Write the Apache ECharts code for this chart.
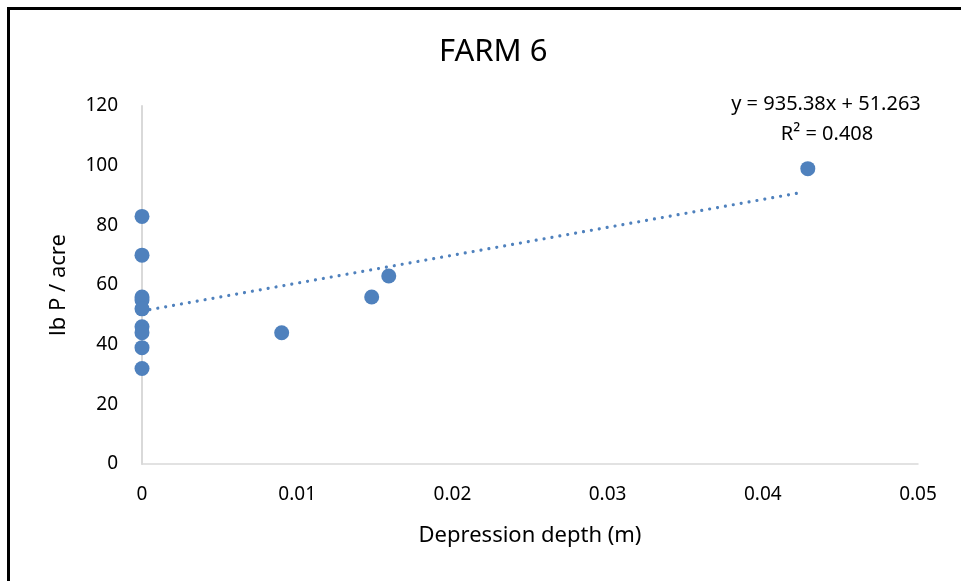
<!DOCTYPE html>
<html>
<head>
<meta charset="utf-8">
<script src="https://cdn.jsdelivr.net/npm/echarts@6/dist/echarts.min.js"></script>
<style>
  html, body { margin: 0; padding: 0; background: #fff; }
  #chart { width: 961px; height: 581px; }
</style>
</head>
<body>
<div id="chart"></div>
<script>
// depression depth (m) and lb P / acre
const depth = [0, 0, 0, 0, 0, 0, 0, 0, 0, 0.009, 0.0148, 0.0159, 0.0429];
const phosphorus = [83, 70, 56, 55, 52, 46, 44, 39, 32, 44, 56, 63, 99];

// linear trendline as printed on the chart
const slope = 935.38;
const intercept = 51.263;
const trendX = [0, 0.0425];

const xTicks = [0, 0.01, 0.02, 0.03, 0.04, 0.05];
const yTicks = [0, 20, 40, 60, 80, 100, 120];

const font = '"Noto Sans", "Liberation Sans", sans-serif';
const blue = '#4f81bd';

const chart = echarts.init(document.getElementById('chart'));

chart.setOption({
    animation: false,
    title: {
        text: 'FARM 6',
        left: 434,
        top: 32,
        textStyle: { fontFamily: font, fontSize: 31, fontWeight: 'normal', color: '#000' }
    },
    grid: { left: 142, right: 43, top: 106, bottom: 117 },
    xAxis: {
        type: 'value',
        min: xTicks[0],
        max: xTicks[xTicks.length - 1],
        interval: 0.01,
        name: 'Depression depth (m)',
        nameLocation: 'middle',
        nameGap: 61,
        nameTextStyle: { fontFamily: font, fontSize: 22, color: '#000' },
        axisLine: { lineStyle: { color: '#d9d9d9', width: 1.5 } },
        axisTick: { show: false },
        splitLine: { show: false },
        axisLabel: { fontFamily: font, fontSize: 19, color: '#000', margin: 21 }
    },
    yAxis: {
        type: 'value',
        min: yTicks[0],
        max: yTicks[yTicks.length - 1],
        interval: 20,
        name: 'lb P / acre',
        nameLocation: 'middle',
        nameGap: 72,
        nameTextStyle: { fontFamily: font, fontSize: 22, color: '#000' },
        axisLine: { show: true, lineStyle: { color: '#d9d9d9', width: 2 } },
        axisTick: { show: false },
        splitLine: { show: false },
        axisLabel: { fontFamily: font, fontSize: 19, color: '#000', margin: 24 }
    },
    series: [
        {
            type: 'line',
            data: trendX.map(x => [x, slope * x + intercept]),
            symbol: 'none',
            lineStyle: { color: blue, width: 3.2, type: [0.01, 8], cap: 'round' },
            z: 2
        },
        {
            type: 'scatter',
            data: depth.map((d, i) => [d, phosphorus[i]]),
            symbolSize: 15,
            itemStyle: { color: blue, opacity: 1 },
            z: 3
        }
    ],
    graphic: [
        { type: 'rect', shape: { x: 7, y: 7, width: 954, height: 3 }, style: { fill: '#000' } },
        { type: 'rect', shape: { x: 7, y: 7, width: 3, height: 574 }, style: { fill: '#000' } },
        {
            type: 'text', x: 826, y: 104,
            style: { text: 'y = 935.38x + 51.263', fontFamily: font, fontSize: 20, fill: '#000', align: 'center', verticalAlign: 'middle' }
        },
        {
            type: 'text', x: 827, y: 134,
            style: { text: 'R² = 0.408', fontFamily: font, fontSize: 20, fill: '#000', align: 'center', verticalAlign: 'middle' }
        }
    ]
});
</script>
</body>
</html>
